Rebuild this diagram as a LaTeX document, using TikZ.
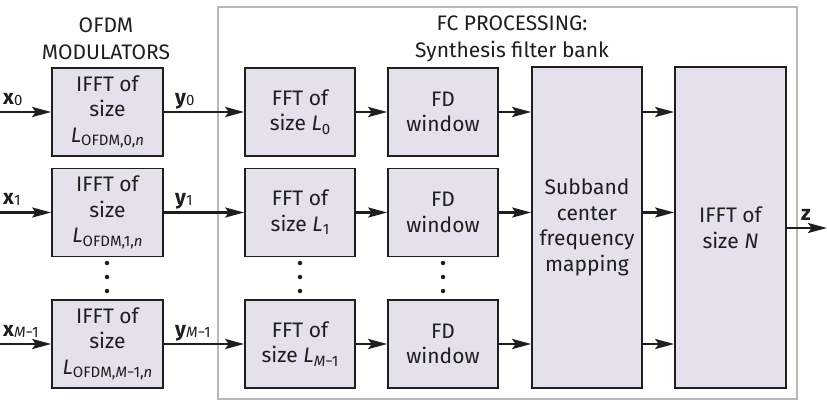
\documentclass[tikz,border=0pt]{standalone}
\usepackage{fontspec}
\setmainfont{Fira Sans}
\usetikzlibrary{arrows.meta}
\definecolor{boxfill}{HTML}{E4E0EC}
\definecolor{ink}{HTML}{1E1E1E}
\definecolor{frame}{HTML}{B8B8B8}
\newcommand{\sbs}[1]{\raisebox{-0.3ex}{\fontsize{15}{15}\selectfont #1}}
\newcommand{\lsb}[1]{\raisebox{-0.1ex}{\fontsize{15}{15}\selectfont #1}}
\newcommand{\iv}{\itshape}
\begin{document}
\begin{tikzpicture}[x=1pt,y=-1pt,
  every node/.style={font=\fontsize{21}{25.5}\selectfont, text=ink},
  blk/.style={draw=ink, line width=1.6pt, fill=boxfill, minimum width=111pt, minimum height=88pt, align=center, inner sep=0pt},
  tall/.style={blk, minimum height=321pt},
  arr/.style={draw=ink, line width=2.4pt, -{Stealth[length=19pt,width=10pt,inset=3.5pt]}},
  lbl/.style={anchor=base west, inner sep=0pt},
  dotc/.style={circle, fill=ink, inner sep=0pt, minimum size=4.5pt}
]
\useasboundingbox (0,0) rectangle (827,408);
\draw[frame, line width=2pt] (218,7) rectangle (797,399);

\node[align=center, font=\fontsize{21}{27}\selectfont] (t1) at (106,38.5) {OFDM\\MODULATORS};
\node[align=center, font=\fontsize{21}{27}\selectfont] (t2) at (512,39) {FC PROCESSING:\\Synthesis filter bank};

% OFDM modulators
\node[blk] (m0) at (107.5,112) {IFFT of\\size\\{\iv L}\sbs{OFDM,0,{\iv n}}};
\node[blk] (m1) at (107.5,212.5) {IFFT of\\size\\{\iv L}\sbs{OFDM,1,{\iv n}}};
\node[blk] (m2) at (107.5,344) {IFFT of\\size\\{\iv L}\sbs{OFDM,{\iv M}−1,{\iv n}}};

% FFT
\node[blk, minimum width=110pt] (f0) at (300,112) {FFT of\\size {\iv L}\sbs{0}};
\node[blk, minimum width=110pt] (f1) at (300,212.5) {FFT of\\size {\iv L}\sbs{1}};
\node[blk, minimum width=110pt] (f2) at (300,344) {FFT of\\size {\iv L}\sbs{{\iv M}−1}};

% FD windows
\node[blk, minimum width=110pt] (w0) at (443,112) {FD\\window};
\node[blk, minimum width=110pt] (w1) at (443,212.5) {FD\\window};
\node[blk, minimum width=110pt] (w2) at (443,344) {FD\\window};

\node[tall, minimum width=110pt] (sb) at (587,227.5) {Subband\\center\\frequency\\mapping};
\node[tall] (ifft) at (730.5,227.5) {IFFT of\\size {\iv N}};

% inputs
\coordinate (i0) at (0,112);
\coordinate (i1) at (0,212.5);
\coordinate (i2) at (0,344);
\coordinate (out) at (827,228);

\draw[arr] (i0) -- (m0);
\draw[arr] (i1) -- (m1);
\draw[arr] (i2) -- (m2);
\foreach \k in {0,1,2}{
  \draw[arr] (m\k.east) -- (f\k.west);
  \draw[arr] (f\k.east) -- (w\k.west);
  \draw[arr] (w\k.east) -- (w\k.east -| sb.west);
  \draw[arr] (w\k.east -| sb.east) -- (w\k.east -| ifft.west);
}
\draw[arr] (ifft.east |- out) -- (out);

% labels
\node[lbl] (lx0) at (3,104) {\textbf{x}\lsb{0}};
\node[lbl] (lx1) at (3,204) {\textbf{x}\lsb{1}};
\node[lbl] (lx2) at (3,336) {\textbf{x}\lsb{{\iv M}−1}};
\node[lbl] (ly0) at (175,104) {\textbf{y}\lsb{0}};
\node[lbl] (ly1) at (175,204) {\textbf{y}\lsb{1}};
\node[lbl] (ly2) at (175,336) {\textbf{y}\lsb{{\iv M}−1}};
\node[lbl] (lz) at (801,220) {\textbf{z}};

% dots
\foreach \x/\n in {107/a,300/b,443/c}{
  \node[dotc] (d1\n) at (\x,263) {};
  \node[dotc] (d2\n) at (\x,277) {};
  \node[dotc] (d3\n) at (\x,291) {};
}
\end{tikzpicture}
\end{document}
